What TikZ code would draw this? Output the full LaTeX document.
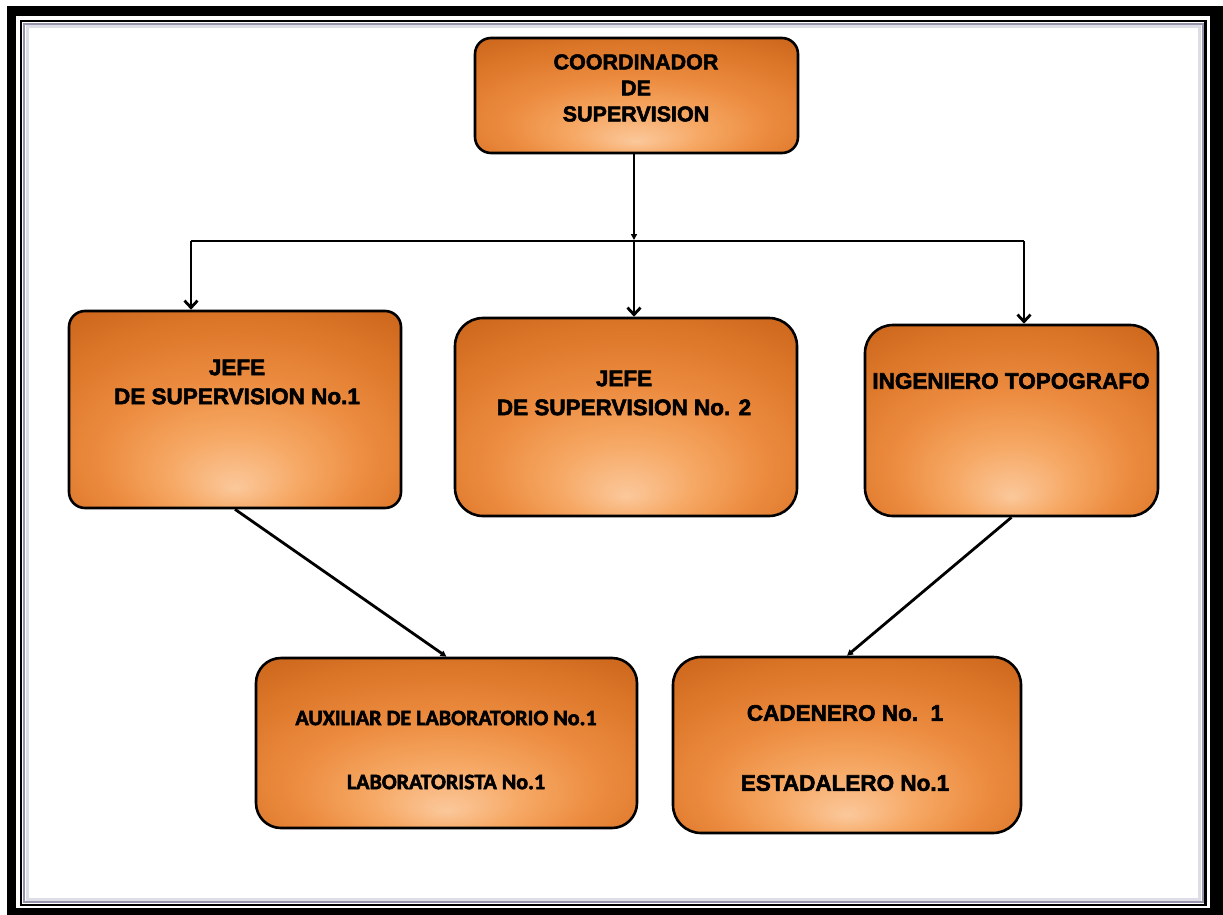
\documentclass[tikz,border=0pt]{standalone}
\usepackage{fontspec}
\setmainfont{Liberation Sans}
\newfontfamily\heavy{Liberation Sans}[FakeBold=2.5]
\newfontfamily\carl{Carlito}[FakeBold=2.5]
\usetikzlibrary{arrows.meta}
\definecolor{bL}{RGB}{251,200,155}
\definecolor{bMa}{RGB}{246,168,100}
\definecolor{bMb}{RGB}{236,140,64}
\definecolor{bDa}{RGB}{220,118,40}
\definecolor{bDb}{RGB}{198,96,24}
\definecolor{shadowA}{RGB}{150,148,170}
\definecolor{shadowB}{RGB}{222,222,230}
\pgfdeclareradialshading{orangebox}{\pgfpoint{0bp}{-20bp}}{color(0bp)=(bL); color(10bp)=(bMa); color(20bp)=(bMb); color(31bp)=(bDa); color(42bp)=(bDb); color(55bp)=(bDb)}
\tikzset{
  box/.style={draw=black, line width=2.6pt, shade, shading=orangebox, inner sep=0pt},
  lbl/.style={font=\heavy\bfseries\fontsize{22.5}{29}\selectfont, align=center, inner sep=0pt, text=black},
  lblc/.style={font=\carl\bfseries\fontsize{22}{29}\selectfont, align=center, inner sep=0pt, text=black},
  conn/.style={line width=2.8pt, draw=black},
  vtip/.style={conn, -{Straight Barb[length=7pt,width=13pt]}},
  ftip/.style={conn, -{Triangle[length=6pt,width=6pt]}},
}
\begin{document}
\begin{tikzpicture}[x=1pt,y=-1pt]
\useasboundingbox (0,0) rectangle (1223,915);
% frame
\fill[white] (0,0) rectangle (1223,915);
\fill[black] (7,6) rectangle (1223,915);
\fill[white] (16,16) rectangle (1210,908);
\draw[line width=2.5pt] (21,21) rectangle (1205.5,905);
\draw[line width=2pt, shadowA] (24,24) rectangle (1202.5,902);
\draw[line width=3pt, shadowB] (27,27) rectangle (1199.5,899);
% boxes
\node[box, rounded corners=16pt, minimum width=323pt, minimum height=115pt] (coord) at (636.5,95.5) {};
\node[box, rounded corners=16pt, minimum width=332pt, minimum height=197pt] (j1) at (235,409.5) {};
\node[box, rounded corners=28pt, minimum width=342pt, minimum height=198pt] (j2) at (626,417) {};
\node[box, rounded corners=28pt, minimum width=293pt, minimum height=191pt] (ing) at (1011.5,420.5) {};
\node[box, rounded corners=25pt, minimum width=381pt, minimum height=170pt] (aux) at (446.5,743) {};
\node[box, rounded corners=28pt, minimum width=348pt, minimum height=176pt] (cad) at (847,745) {};
% texts
\node[lbl, font=\heavy\bfseries\fontsize{21.5}{26}\selectfont] (tcoord) at (636,88) {COORDINADOR\\DE\\SUPERVISION};
\node[lbl] (tj1) at (237,382) {JEFE\\DE SUPERVISION No.1};
\node[lbl] (tj2) at (624,393) {JEFE\\DE SUPERVISION No. 2};
\node[lbl] (ting) at (1011,381) {INGENIERO TOPOGRAFO};
\node[lblc] (taux1) at (446,718) {AUXILIAR DE LABORATORIO No.1};
\node[lblc] (taux2) at (446,782) {LABORATORISTA No.1};
\node[lbl] (tcad1) at (845,713) {CADENERO No.\ \ 1};
\node[lbl] (tcad2) at (845,783) {ESTADALERO No.1};
% connectors
\coordinate (jn) at (634,240);
\coordinate (hl) at (191,241);
\coordinate (hr) at (1024,241);
\draw[ftip] (coord.south -| jn) -- (jn);
\draw[conn] (hl) -- (hr);
\draw[vtip] (hl) -- (j1.north -| hl);
\draw[vtip] (jn) -- (j2.north -| jn);
\draw[vtip] (hr) -- (ing.north -| hr);
\draw[ftip] (j1.south) -- (aux.north);
\draw[ftip] (ing.south) -- (cad.north);
\end{tikzpicture}
\end{document}
